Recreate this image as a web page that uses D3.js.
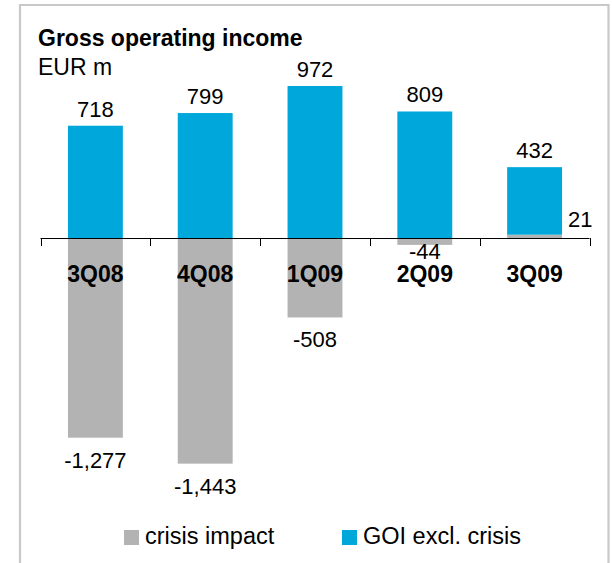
<!DOCTYPE html>
<html>
<head>
<meta charset="utf-8">
<script src="https://cdn.jsdelivr.net/npm/d3@7"></script>
<style>
  body { margin: 0; background: #fff; }
  text { font-family: "Liberation Sans", Arial, sans-serif; }
</style>
</head>
<body>
<svg id="chart" width="612" height="563"></svg>
<script>
// data
const quarters = ["3Q08", "4Q08", "1Q09", "2Q09", "3Q09"];
const goiExclCrisis = [718, 799, 972, 809, 432];
const crisisImpact = [-1277, -1443, -508, -44, 21];
const legendLabels = ["crisis impact", "GOI excl. crisis"];

const blue = "#00a7db";
const grey = "#b3b3b3";

const svg = d3.select("#chart");
const width = +svg.attr("width");
const height = +svg.attr("height");

// light frame round the whole chart (open at the bottom, as in the slide)
svg.append("path")
    .attr("d", `M20,${height + 5} V5 H608.5 V${height + 5}`)
    .attr("fill", "none")
    .attr("stroke", "#c8c8c8")
    .attr("stroke-width", 2.2);

// title
svg.append("text")
    .attr("x", 38).attr("y", 46)
    .attr("font-size", "23px").attr("font-weight", "bold")
    .text("Gross operating income");
svg.append("text")
    .attr("x", 38).attr("y", 75)
    .attr("font-size", "23px")
    .text("EUR m");

const x = d3.scaleBand()
    .domain(quarters)
    .range([40.5, 589.5])
    .paddingInner(0.5)
    .paddingOuter(0.25);

// zero sits at y=238, 972 reaches up to y=86
const y = d3.scaleLinear()
    .domain([0, 972])
    .range([238, 86]);

const rows = quarters.map((q, i) => ({
    q: q,
    goi: goiExclCrisis[i],
    crisis: crisisImpact[i],
    // blue stacks on top of a positive crisis value
    base: Math.max(0, crisisImpact[i])
}));

const g = svg.append("g");

// crisis impact bars
g.selectAll("rect.crisis")
    .data(rows)
    .join("rect")
    .attr("class", "crisis")
    .attr("x", d => x(d.q))
    .attr("width", x.bandwidth())
    .attr("y", d => Math.min(y(0), y(d.crisis)))
    .attr("height", d => Math.abs(y(d.crisis) - y(0)))
    .attr("fill", grey);

// GOI excl. crisis bars
g.selectAll("rect.goi")
    .data(rows)
    .join("rect")
    .attr("class", "goi")
    .attr("x", d => x(d.q))
    .attr("width", x.bandwidth())
    .attr("y", d => y(d.base + d.goi))
    .attr("height", d => y(d.base) - y(d.base + d.goi))
    .attr("fill", blue);

// axis with ticks between categories
const axisY = y(0);
const bounds = quarters.map(q => x(q) - x.step() * x.paddingInner() / 2)
    .concat([x(quarters[quarters.length - 1]) + x.bandwidth() + x.step() * x.paddingInner() / 2]);
svg.append("line")
    .attr("x1", bounds[0]).attr("x2", bounds[bounds.length - 1])
    .attr("y1", axisY + 0.5).attr("y2", axisY + 0.5)
    .attr("stroke", "#000").attr("stroke-width", 1);
svg.selectAll("line.tick")
    .data(bounds)
    .join("line")
    .attr("class", "tick")
    .attr("x1", d => Math.round(d) + 0.5).attr("x2", d => Math.round(d) + 0.5)
    .attr("y1", axisY).attr("y2", axisY + 8)
    .attr("stroke", "#000").attr("stroke-width", 1);

// category labels
svg.selectAll("text.cat")
    .data(rows)
    .join("text")
    .attr("class", "cat")
    .attr("x", d => x(d.q) + x.bandwidth() / 2)
    .attr("y", 282)
    .attr("text-anchor", "middle")
    .attr("font-size", "23px").attr("font-weight", "bold")
    .text(d => d.q);

// plain hyphen for negatives, like the slide
const fmt = v => d3.format(",")(v).replace("\u2212", "-");

// value labels: GOI above bars
svg.selectAll("text.goiLabel")
    .data(rows)
    .join("text")
    .attr("class", "goiLabel")
    .attr("x", d => x(d.q) + x.bandwidth() / 2)
    .attr("y", d => y(d.base + d.goi) - 9)
    .attr("text-anchor", "middle")
    .attr("font-size", "22px")
    .text(d => fmt(d.goi));

// crisis labels: below negative bars, to the right of positive ones
svg.selectAll("text.crisisLabel")
    .data(rows)
    .join("text")
    .attr("class", "crisisLabel")
    .attr("x", d => d.crisis > 0 ? x(d.q) + x.bandwidth() + 6 : x(d.q) + x.bandwidth() / 2)
    .attr("y", d => {
        if (d.crisis > 0) return y(d.crisis) - 8;
        const h = y(d.crisis) - y(0);
        return y(d.crisis) + (h < 20 ? 14 : 30);
    })
    .attr("text-anchor", d => d.crisis > 0 ? "start" : "middle")
    .attr("font-size", "22px")
    .text(d => fmt(d.crisis));

// legend
const legendX = [124, 342];
const legendColors = [grey, blue];
const legend = svg.selectAll("g.legend")
    .data(legendLabels)
    .join("g")
    .attr("class", "legend")
    .attr("transform", (d, i) => `translate(${legendX[i]},530)`);
legend.append("rect")
    .attr("width", 15).attr("height", 15)
    .attr("fill", (d, i) => legendColors[i]);
legend.append("text")
    .attr("x", 21).attr("y", 14)
    .attr("font-size", "23.5px")
    .text(d => d);
</script>
</body>
</html>
